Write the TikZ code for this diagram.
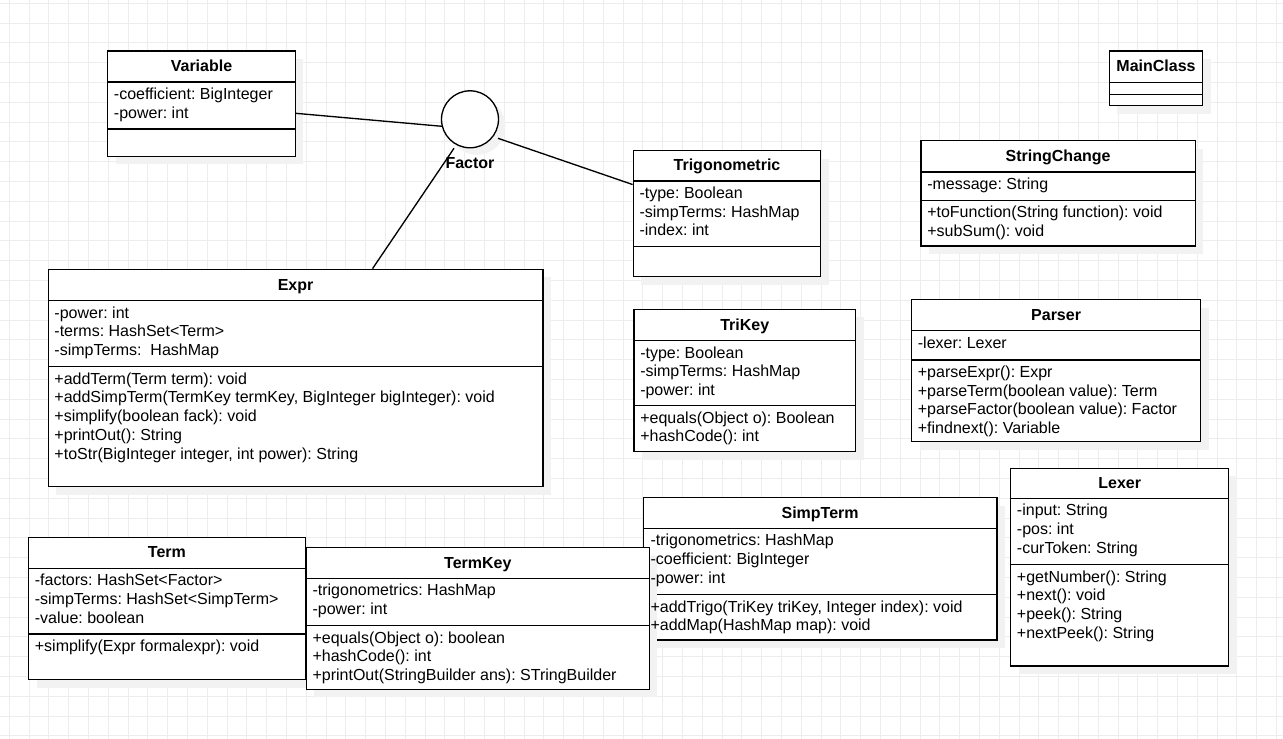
\documentclass[tikz,border=0pt]{standalone}
\usepackage{fontspec}
\setmainfont{Liberation Sans}
\usetikzlibrary{fit,calc}
\frenchspacing

\newcommand{\umlbox}[8]{%
  \fill[shadowbox] (#2+8,#3+8) rectangle (#4+8,#5+8);
  \coordinate (#1-nw) at (#2,#3);
  \coordinate (#1-se) at (#4,#5);
  \node[box, fit=(#1-nw)(#1-se)] (#1) {};
  \draw[sepline] (#2,#6) -- (#4,#6);
  \draw[sepline] (#2,#7) -- (#4,#7);
  \node[titletext] (#1-title) at ({(#2+#4)/2},{(#3+#6)/2+5}) {#8};
}
\newcommand{\members}[4]{%
  \foreach \t [count=\k] in {#4}
    \node[membertext] (#1-\k) at ({#2+6},{#3+12.5+18.7*(\k-1)+5}) {\t};
}

\begin{document}
\frenchspacing
\begin{tikzpicture}[x=0.75pt,y=-0.75pt,
  box/.style={draw=black, line width=1pt, fill=white, inner sep=0pt},
  shadowbox/.style={fill=black!5, draw=none},
  sepline/.style={draw=black, line width=1pt},
  conn/.style={draw=black, line width=1pt},
  gridline/.style={draw=black!7, line width=0.75pt},
  membertext/.style={anchor=base west, inner sep=0pt, text=black, font=\fontsize{12}{14}\selectfont\frenchspacing},
  titletext/.style={anchor=base, inner sep=0pt, text=black, font=\fontsize{12}{14}\selectfont\bfseries}]

\useasboundingbox (0,0) rectangle (1283,739);
\fill[white] (0,0) rectangle (1283,739);
\foreach \i in {0,...,64} \draw[gridline] ({9.3+19.8*\i},0) -- ({9.3+19.8*\i},739);
\foreach \i in {0,...,37} \draw[gridline] (0,{3.3+19.8*\i}) -- (1283,{3.3+19.8*\i});

% Variable
\umlbox{var}{107.7}{51}{295.3}{156.3}{82}{129}{Variable}
\members{var-a}{107.7}{82}{-coefficient: BigInteger,-power: int}

% Factor
\fill[black!5] (477,126.3) circle (28.5);
\node[draw=black, line width=1pt, fill=white, circle, minimum size=42.75pt, inner sep=0pt] (factor) at (470,119.3) {};
\node[titletext] (factor-label) at (470,168) {Factor};

% Trigonometric
\umlbox{tri}{633.3}{150.7}{820.7}{276.7}{181}{246.7}{Trigonometric}
\members{tri-a}{633.3}{181}{-type: Boolean,-simpTerms: HashMap,-index: int}

% MainClass
\umlbox{main}{1109.3}{51}{1202.7}{105.7}{82.3}{94.3}{MainClass}

% StringChange
\umlbox{sc}{921}{140.7}{1195.3}{246}{172}{200.3}{StringChange}
\members{sc-a}{921}{172}{-message: String}
\members{sc-m}{921}{200.3}{+toFunction(String function): void,+subSum(): void}

% Expr
\umlbox{expr}{48.2}{269.3}{542.9}{486.5}{300.7}{366.7}{Expr}
\members{expr-a}{48.2}{300.7}{-power: int,-terms: HashSet<Term>,-simpTerms:~ HashMap}
\members{expr-m}{48.2}{366.7}{+addTerm(Term term): void,{+addSimpTerm(TermKey termKey, BigInteger bigInteger): void},+simplify(boolean fack): void,+printOut(): String,{+toStr(BigInteger integer, int power): String}}

% TriKey
\umlbox{trikey}{634}{309.3}{855.5}{451.7}{340.7}{405.7}{TriKey}
\members{trikey-a}{634}{340.7}{-type: Boolean,-simpTerms: HashMap,-power: int}
\members{trikey-m}{634}{405.7}{+equals(Object o): Boolean,+hashCode(): int}

% Parser
\umlbox{parser}{911.6}{299.5}{1200.6}{441.7}{330.7}{360}{Parser}
\members{parser-a}{911.6}{330.7}{-lexer: Lexer}
\members{parser-m}{911.6}{360}{+parseExpr(): Expr,+parseTerm(boolean value): Term,+parseFactor(boolean value): Factor,+findnext(): Variable}

% Term
\umlbox{term}{28.6}{537.5}{305.3}{679.5}{568.3}{634}{Term}
\members{term-a}{28.6}{568.3}{-factors: HashSet<Factor>,-simpTerms: HashSet<SimpTerm>,-value: boolean}
\members{term-m}{28.6}{634}{+simplify(Expr formalexpr): void}

% SimpTerm (box)
\umlbox{simp}{643.3}{497.7}{997}{640}{528.3}{594.5}{SimpTerm}

% TermKey
\umlbox{tk}{306.3}{547.7}{649.3}{689.3}{578.3}{625.5}{TermKey}
\members{tk-a}{306.3}{578.3}{-trigonometrics: HashMap,-power: int}
\members{tk-m}{306.3}{625.5}{+equals(Object o): boolean,+hashCode(): int,+printOut(StringBuilder ans): STringBuilder}

% SimpTerm (texts, above TermKey)
\members{simp-a}{644.3}{528.3}{-trigonometrics: HashMap,-coefficient: BigInteger,-power: int}
\members{simp-m}{644.3}{594.5}{{+addTrigo(TriKey triKey, Integer index): void},+addMap(HashMap map): void}

% Lexer
\umlbox{lexer}{1010.7}{468.3}{1228.7}{666}{498.3}{564.5}{Lexer}
\members{lexer-a}{1010.7}{498.3}{-input: String,-pos: int,-curToken: String}
\members{lexer-m}{1010.7}{564.5}{+getNumber(): String,+next(): void,+peek(): String,+nextPeek(): String}

% Connectors
\draw[conn] ($(var.north east)+(0,63)$) -- ($(factor.center)+(-28,7)$);
\draw[conn] ($(factor.center)+(28,19)$) -- ($(tri.north west)+(0,34.5)$);
\draw[conn] ($(factor.center)+(-16,29)$) -- ($(expr.north west)+(325,0)$);

\end{tikzpicture}
\end{document}
